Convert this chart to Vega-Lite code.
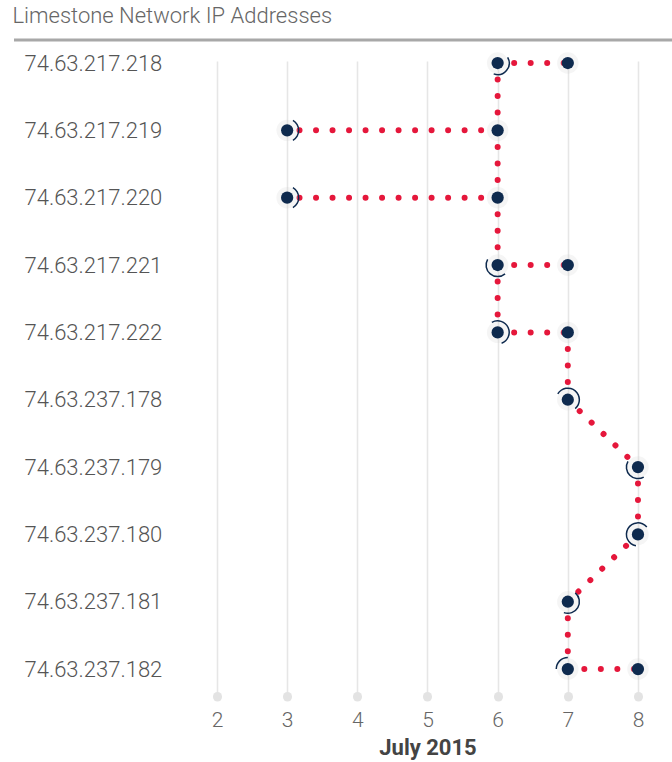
{
  "$schema": "https://vega.github.io/schema/vega-lite/v6.json",
  "width": 658,
  "height": 635,
  "autosize": {"type": "none"},
  "padding": {"left": 14, "top": 61, "right": 0, "bottom": 66},
  "background": "white",
  "config": {"view": {"stroke": null}, "font": "Roboto"},
  "title": {"text": "Limestone Network IP Addresses", "anchor": "start", "font": "Roboto", "fontSize": 22, "fontWeight": 300, "color": "#666666", "offset": 11},
  "datasets": {
    "points": [
      {"ip": "74.63.217.218", "day": 6, "a": 60, "b": 200},
      {"ip": "74.63.217.218", "day": 7, "a": 210, "b": 330},
      {"ip": "74.63.217.219", "day": 3, "a": 30, "b": 150},
      {"ip": "74.63.217.219", "day": 6, "a": 150, "b": 320},
      {"ip": "74.63.217.220", "day": 3, "a": 30, "b": 150},
      {"ip": "74.63.217.220", "day": 6, "a": 180, "b": 330},
      {"ip": "74.63.217.221", "day": 6, "a": 140, "b": 300},
      {"ip": "74.63.217.221", "day": 7, "a": 270, "b": 320},
      {"ip": "74.63.217.222", "day": 6, "a": -30, "b": 160},
      {"ip": "74.63.217.222", "day": 7, "a": 120, "b": 240},
      {"ip": "74.63.237.178", "day": 7, "a": -60, "b": 140},
      {"ip": "74.63.237.179", "day": 8, "a": 150, "b": 300},
      {"ip": "74.63.237.180", "day": 8, "a": 190, "b": 410},
      {"ip": "74.63.237.181", "day": 7, "a": 40, "b": 200},
      {"ip": "74.63.237.182", "day": 7, "a": 270, "b": 360},
      {"ip": "74.63.237.182", "day": 8, "a": 200, "b": 330}
    ],
    "path": [
      {"seg": "a", "step": 1, "ip": "74.63.217.218", "day": 6},
      {"seg": "a", "step": 2, "ip": "74.63.217.218", "day": 7},
      {"seg": "b", "step": 1, "ip": "74.63.217.218", "day": 6},
      {"seg": "b", "step": 2, "ip": "74.63.217.219", "day": 6},
      {"seg": "c", "step": 1, "ip": "74.63.217.219", "day": 6},
      {"seg": "c", "step": 2, "ip": "74.63.217.220", "day": 6},
      {"seg": "d", "step": 1, "ip": "74.63.217.220", "day": 6},
      {"seg": "d", "step": 2, "ip": "74.63.217.221", "day": 6},
      {"seg": "e", "step": 1, "ip": "74.63.217.221", "day": 6},
      {"seg": "e", "step": 2, "ip": "74.63.217.222", "day": 6},
      {"seg": "f", "step": 1, "ip": "74.63.217.219", "day": 6},
      {"seg": "f", "step": 2, "ip": "74.63.217.219", "day": 3},
      {"seg": "g", "step": 1, "ip": "74.63.217.220", "day": 6},
      {"seg": "g", "step": 2, "ip": "74.63.217.220", "day": 3},
      {"seg": "h", "step": 1, "ip": "74.63.217.221", "day": 6},
      {"seg": "h", "step": 2, "ip": "74.63.217.221", "day": 7},
      {"seg": "i", "step": 1, "ip": "74.63.217.222", "day": 6},
      {"seg": "i", "step": 2, "ip": "74.63.217.222", "day": 7},
      {"seg": "j", "step": 1, "ip": "74.63.217.222", "day": 7},
      {"seg": "j", "step": 2, "ip": "74.63.237.178", "day": 7},
      {"seg": "k", "step": 1, "ip": "74.63.237.178", "day": 7},
      {"seg": "k", "step": 2, "ip": "74.63.237.179", "day": 8},
      {"seg": "l", "step": 1, "ip": "74.63.237.179", "day": 8},
      {"seg": "l", "step": 2, "ip": "74.63.237.180", "day": 8},
      {"seg": "m", "step": 1, "ip": "74.63.237.180", "day": 8},
      {"seg": "m", "step": 2, "ip": "74.63.237.181", "day": 7},
      {"seg": "n", "step": 1, "ip": "74.63.237.181", "day": 7},
      {"seg": "n", "step": 2, "ip": "74.63.237.182", "day": 7},
      {"seg": "o", "step": 1, "ip": "74.63.237.182", "day": 7},
      {"seg": "o", "step": 2, "ip": "74.63.237.182", "day": 8}
    ]
  },
  "encoding": {
    "x": {"field": "day", "type": "quantitative",
      "scale": {"domain": [-0.893, 8.485], "nice": false, "zero": false},
      "axis": {"orient": "bottom", "values": [2, 3, 4, 5, 6, 7, 8], "grid": true, "gridColor": "#e6e6e6", "gridWidth": 1.6,
        "domain": false, "ticks": true, "tickSize": 0.5, "tickWidth": 9, "tickCap": "round", "tickColor": "#e3e3e3",
        "labelFont": "Roboto", "labelFontSize": 21, "labelFontWeight": 300, "labelColor": "#666666", "labelPadding": 13, "labelFlush": false,
        "title": "July 2015", "titleFont": "Roboto", "titleFontSize": 22, "titleFontWeight": "bold", "titleColor": "#444444", "titleX": 413.5, "titlePadding": 7}},
    "y": {"field": "ip", "type": "nominal",
      "scale": {"type": "point", "domain": ["74.63.217.218", "74.63.217.219", "74.63.217.220", "74.63.217.221", "74.63.217.222", "74.63.237.178", "74.63.237.179", "74.63.237.180", "74.63.237.181", "74.63.237.182"], "padding": 0.215, "align": 0.07},
      "axis": {"orient": "left", "title": null, "domain": false, "ticks": false, "grid": false, "offset": -10, "labelAlign": "left", "labelPadding": 0,
        "labelFont": "Roboto", "labelFontSize": 22, "labelFontWeight": 300, "labelColor": "#555555", "labelBaseline": "middle"}}
  },
  "layer": [
    {
      "data": {"values": [{"ip": "74.63.217.218"}]},
      "mark": {"type": "rule", "color": "#a8a8a8", "strokeWidth": 3, "yOffset": -23},
      "encoding": {"x": null}
    },
    {
      "data": {"name": "path"},
      "mark": {"type": "line", "color": "#e5173b", "strokeWidth": 6, "strokeCap": "round", "strokeDash": [0.01, 16.5]},
      "encoding": {
        "detail": {"field": "seg"},
        "order": {"field": "step"}
      }
    },
    {
      "data": {"name": "points"},
      "mark": {"type": "circle", "color": "#cfcfcf", "opacity": 0.2, "size": 460}
    },
    {
      "data": {"name": "points"},
      "mark": {"type": "arc", "innerRadius": 10.8, "outerRadius": 12.3, "color": "#0e2a4e"},
      "encoding": {
        "theta": {"field": "a", "type": "quantitative", "scale": {"domain": [0, 360], "range": [0, 6.2832]}, "stack": null},
        "theta2": {"field": "b"}
      }
    },
    {
      "data": {"name": "points"},
      "mark": {"type": "circle", "color": "#0e2a4e", "opacity": 1, "size": 150}
    }
  ]
}
